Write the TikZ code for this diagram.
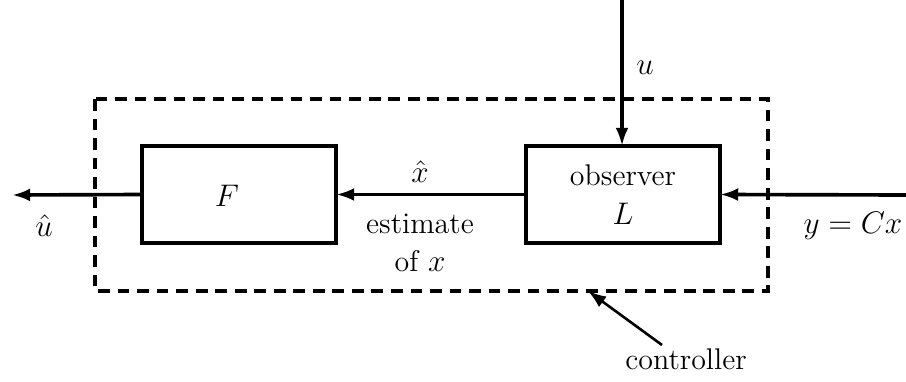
\documentclass[tikz,border=0pt]{standalone}
\usetikzlibrary{arrows.meta}
\begin{document}
\begin{tikzpicture}[x=0.0135cm,y=-0.0135cm,line width=1.4pt,
    font=\fontsize{11.5}{14}\selectfont,
    >={Latex[length=7pt,width=5pt]},
    blk/.style={draw,minimum width=2.62cm,minimum height=1.31cm,inner sep=0pt,outer sep=0pt}]
  \useasboundingbox (0,0) rectangle (906,381);
  % controller frame
  \draw[dash pattern=on 4.5pt off 3pt] (95,99) rectangle (768,291);
  % blocks
  \node[blk] (F) at (239,194.5) {};
  \node at (227,196) {$F$};
  \node[blk,align=center] (obs) at (623,194.5) {observer\\[1pt] $L$};
  % signals
  \coordinate (out) at (12,195);
  \coordinate (yin) at (906,195);
  \coordinate (uin) at (622,0);
  \draw[->] (F.west) -- (out);
  \draw[->] (obs.west) -- (F.east);
  \draw[->] (yin) -- (obs.east);
  \draw[->] (uin) -- (uin |- obs.north);
  \node (uhat) at (44,226) {$\hat u$};
  \node (xhat) at (420,172) {$\hat x$};
  \node (est) at (420,224) {estimate};
  \node (ofx) at (420,261) {of $x$};
  \node (ylab) at (853,226) {$y=Cx$};
  \node (ulab) at (645,68) {$u$};
  \node (ctl) at (686,359) {controller};
  \coordinate (ctltail) at (662,345);
  \coordinate (ctltip) at (588,291);
  \draw[->,line width=1pt] (ctltail) -- (ctltip);
\end{tikzpicture}
\end{document}
